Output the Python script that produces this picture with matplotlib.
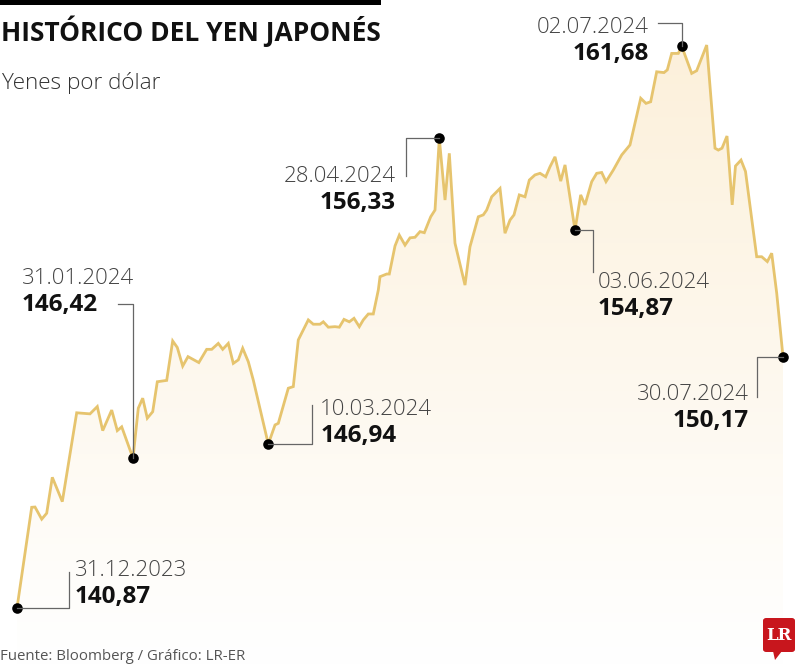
import numpy as np
import matplotlib
matplotlib.use("Agg")
import matplotlib.pyplot as plt
from matplotlib.patches import FancyBboxPatch, Polygon, Rectangle

# ---------------- data ----------------
# days elapsed since 31.12.2023 and JPY per USD
days = [0, 4.07, 4.98, 6.84, 8.22, 9.77, 12.54, 16.52, 20.20, 22.22, 23.72, 26.21,
        27.76, 28.98, 32.10, 33.57, 34.79, 36.06, 37.56, 38.83, 41.43, 43.09, 44.36,
        45.86, 47.33, 50.32, 52.50, 53.89, 55.71, 56.93, 58.48, 59.86, 61.25, 62.46,
        64.02, 65.40, 69.55, 71.41, 72.32, 75.09, 76.47, 77.85, 80.62, 82.00, 83.86,
        84.77, 86.16, 88.01, 89.20, 90.50, 91.97, 93.27, 94.74, 95.84, 97.23, 98.61,
        100.00, 100.47, 102.32, 103.04, 104.62, 105.81, 107.39, 108.77, 110.15,
        111.54, 112.73, 114.50, 115.69, 116.88, 118.46, 119.65, 121.22, 123.99,
        125.37, 127.67, 129.05, 129.99, 131.38, 133.68, 135.06, 136.45, 137.55,
        139.02, 140.60, 141.79, 143.36, 144.75, 146.32, 147.51, 148.90, 150.48,
        151.67, 154.43, 156.01, 157.20, 159.06, 160.44, 161.82, 163.01, 165.03,
        167.36, 169.65, 172.62, 174.08, 175.38, 177.04, 179.06, 179.98, 181.20,
        183.02, 183.96, 186.73, 188.11, 190.88, 193.18, 194.09, 195.12, 196.50,
        197.94, 198.85, 200.38, 201.62, 204.72, 206.10, 207.66, 208.87, 210.26, 212]
yen = [140.87, 144.60, 144.61, 144.16, 144.38, 145.71, 144.81, 148.10, 148.06, 148.33,
       147.44, 148.20, 147.44, 147.58, 146.42, 148.27, 148.64, 147.90, 148.14, 149.25,
       149.30, 150.76, 150.52, 149.83, 150.18, 149.96, 150.45, 150.45, 150.67, 150.45,
       150.67, 149.93, 150.06, 150.49, 149.99, 149.31, 146.94, 147.65, 147.71, 149.01,
       149.07, 150.80, 151.54, 151.38, 151.38, 151.47, 151.27, 151.29, 151.27, 151.56,
       151.47, 151.60, 151.29, 151.54, 151.76, 151.76, 152.65, 153.14, 153.24, 153.24,
       154.28, 154.68, 154.31, 154.58, 154.60, 154.81, 154.77, 155.36, 155.61, 158.26,
       155.98, 157.71, 154.38, 152.83, 154.25, 155.36, 155.43, 155.61, 156.10, 156.41,
       154.75, 155.24, 155.43, 156.17, 156.10, 156.72, 156.91, 156.97, 156.84, 157.21,
       157.58, 156.68, 157.28, 154.87, 156.17, 155.80, 156.66, 156.97, 157.00, 156.66,
       157.09, 157.65, 158.02, 159.75, 159.56, 159.62, 160.73, 160.70, 160.80, 161.41,
       161.41, 161.68, 160.67, 160.77, 161.72, 157.90, 157.83, 157.90, 158.35, 155.80,
       157.24, 157.46, 157.04, 153.88, 153.88, 153.70, 154.01, 152.53, 150.17]

# highlighted points: index into series, date label, value label
hl_idx = [0, 14, 36, 69, 93, 111, 128]
hl_dates = ["31.12.2023", "31.01.2024", "10.03.2024", "28.04.2024",
            "03.06.2024", "02.07.2024", "30.07.2024"]
hl_values = ["140,87", "146,42", "146,94", "156,33", "154,87", "161,68", "150,17"]

title = "HISTÓRICO DEL YEN JAPONÉS"
subtitle = "Yenes por dólar"
source = "Fuente: Bloomberg / Gráfico: LR-ER"

# ---------------- style ----------------
W, H = 800, 665
FONT = ["Open Sans", "DejaVu Sans"]
LINE = "#E6C46E"
GRAY = "#555555"

fig = plt.figure(figsize=(W / 100, H / 100), dpi=100)
ax = fig.add_axes([0, 0, 1, 1])
ax.set_axis_off()
ppd = 766 / 212.0      # px per day
ppy = 27.0             # px per yen
ax.set_xlim(-17 / ppd, 212 + 17 / ppd)
ax.set_ylim(140.87 - 57 / ppy, 140.87 + 608 / ppy)

x = np.array(days)
y = np.array(yen)
ybot = ax.get_ylim()[0]

# gradient fill under the line
poly = Polygon(np.column_stack([np.r_[x, x[-1], x[0]], np.r_[y, ybot, ybot]]),
               closed=True, facecolor="none", edgecolor="none")
ax.add_patch(poly)
grad = np.linspace(0, 1, 256).reshape(-1, 1)
top = np.array([252, 240, 218]) / 255.0
bot = np.array([255, 255, 255]) / 255.0
img = top[None, None, :] * (1 - grad[..., None]) + bot[None, None, :] * grad[..., None]
im = ax.imshow(img, extent=[x[0], x[-1], ybot, 162.2], origin="upper",
               aspect="auto", zorder=1)
im.set_clip_path(poly)

ax.plot(x, y, color=LINE, lw=2.0, zorder=3, solid_joinstyle="miter")

# highlighted dots
hx = x[hl_idx]
hy = y[hl_idx]
ax.scatter(hx, hy, s=58, color="black", zorder=5, linewidths=0)


def fig_px(px, py):
    return px / W, 1 - py / H


def leader(i, pts):
    # pts: list of (dx, dy) pixel offsets from highlighted point (dy downward)
    X0, Y0 = ax.transData.transform((hx[i], hy[i]))
    xs = [X0] + [X0 + dx for dx, dy in pts]
    ys = [Y0] + [Y0 - dy for dx, dy in pts]
    fx = [v / W for v in xs]
    fy = [v / H for v in ys]
    fig.add_artist(plt.Line2D(fx, fy, color="#666666", lw=0.9, zorder=4))


def label(i, dx, dy, ha):
    X0, Y0 = ax.transData.transform((hx[i], hy[i]))
    fx, fy = (X0 + dx) / W, (Y0 - dy) / H
    fig.text(fx, fy, hl_dates[i], ha=ha, va="baseline", fontsize=16,
             fontweight="light", color="#444444", family=FONT)
    fig.text(fx, fy - 27 / H, hl_values[i], ha=ha, va="baseline", fontsize=17.5,
             fontweight="bold", color="#111111", family=FONT)


# 31.12.2023
leader(0, [(52, 0), (52, -36)])
label(0, 58, -32, "left")
# 31.01.2024
leader(1, [(0, -154), (-15, -154)])
label(1, -111, -174, "left")
# 10.03.2024
leader(2, [(44, 0), (44, -39)])
label(2, 52, -29, "left")
# 28.04.2024
leader(3, [(-33, 0), (-33, 38)])
label(3, -44, 44, "right")
# 03.06.2024
leader(4, [(18, 0), (18, 42)])
label(4, 23, 58, "left")
# 02.07.2024
leader(5, [(0, -23), (-24, -23)])
label(5, -33, -13, "right")
# 30.07.2024
leader(6, [(-26, 0), (-26, 40)])
label(6, -34, 43, "right")

# title block
fig.add_artist(Rectangle((0, 1 - 5 / H), 381 / W, 5 / H, transform=fig.transFigure,
                         facecolor="black", edgecolor="none"))
fig.text(*fig_px(1, 41), title, fontsize=19, fontweight="bold", color="#111111",
         family=FONT, va="baseline")
fig.text(*fig_px(2, 89), subtitle, fontsize=16.2, fontweight="light", color="#333333",
         family=FONT, va="baseline")
fig.text(*fig_px(0, 660), source, fontsize=10.8, color=GRAY, family=FONT,
         va="baseline")

# LR logo
fig.add_artist(FancyBboxPatch((763 / W, 1 - 652 / H), 32 / W, 34 / H,
                              boxstyle="round,pad=0,rounding_size=0.004",
                              transform=fig.transFigure, facecolor="#C8161D",
                              edgecolor="none"))
fig.add_artist(Polygon([fig_px(773, 651), fig_px(782, 651), fig_px(775, 660)],
                       closed=True, transform=fig.transFigure,
                       facecolor="#C8161D", edgecolor="none"))
fig.text(*fig_px(779, 640), "LR", fontsize=12, fontweight="bold", color="white",
         family=["DejaVu Serif"], ha="center", va="baseline")

fig.savefig("out.png", dpi=100, facecolor="white")
